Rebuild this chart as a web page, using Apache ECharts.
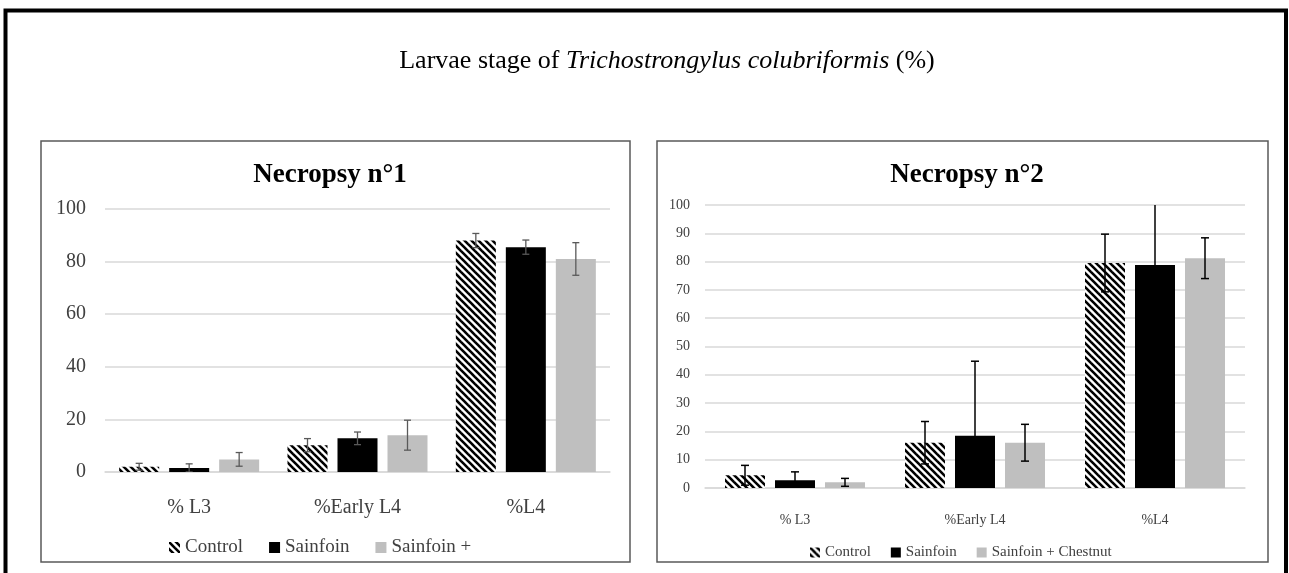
<!DOCTYPE html>
<html>
<head>
<meta charset="utf-8">
<script src="https://cdn.jsdelivr.net/npm/echarts@6/dist/echarts.min.js"></script>
<style>
html,body{margin:0;padding:0;background:#fff;}
#chart{width:1289px;height:573px;}
</style>
</head>
<body>
<div id="chart"></div>
<script>
// ---- data ----
const categories = ['% L3', '%Early L4', '%L4'];
const yTicks1 = [0, 20, 40, 60, 80, 100];
const yTicks2 = [0, 10, 20, 30, 40, 50, 60, 70, 80, 90, 100];

// Necropsy n°1
const n1Control = [2.0, 10.2, 88.0];
const n1Sainfoin = [1.5, 12.8, 85.5];
const n1SainfoinPlus = [4.8, 14.0, 81.0];
const n1ControlErr = [1.3, 2.5, 2.7];
const n1SainfoinErr = [1.6, 2.4, 2.7];
const n1SainfoinPlusErr = [2.6, 5.7, 6.2];

// Necropsy n°2
const n2Control = [4.5, 16.0, 79.5];
const n2Sainfoin = [2.7, 18.5, 78.8];
const n2SainfoinChestnut = [2.0, 16.0, 81.2];
const n2ControlErr = [3.5, 7.5, 10.2];
const n2SainfoinErr = [3.0, 26.3, 22.0];
const n2SainfoinChestnutErr = [1.4, 6.5, 7.2];

const legend1 = ['Control', 'Sainfoin', 'Sainfoin +'];
const legend2 = ['Control', 'Sainfoin', 'Sainfoin + Chestnut'];

// ---- styles ----
const FONT = 'Liberation Serif';
function hatch() {
  const s = 7;
  const c = document.createElement('canvas');
  c.width = s; c.height = s;
  const ctx = c.getContext('2d');
  ctx.fillStyle = '#fff';
  ctx.fillRect(0, 0, s, s);
  ctx.strokeStyle = '#000';
  ctx.lineWidth = 2.6;
  for (let k = -1; k <= 1; k++) {
    ctx.beginPath();
    ctx.moveTo(k * s - 1, -1);
    ctx.lineTo(k * s + s + 1, s + 1);
    ctx.stroke();
  }
  return c;
}
const hatchColor = { image: hatch(), repeat: 'repeat' };
const BAR_W = 40, BAR_GAP = 0.25;

function errData(errs, vals) {
  const out = [];
  errs.forEach((e, k) => {
    vals[k].forEach((v, i) => out.push([i, v, e[i], k]));
  });
  return out;
}
function errSeries(idx, data, color, cap, lw) {
  return {
    type: 'custom', xAxisIndex: idx, yAxisIndex: idx, z: 10, clip: true,
    silent: true, data: data,
    renderItem: function (params, api) {
      const cat = api.value(0), v = api.value(1), e = api.value(2), k = api.value(3);
      const off = (k - 1) * BAR_W * (1 + BAR_GAP);
      const top = api.coord([cat, v + e]);
      const bot = api.coord([cat, Math.max(v - e, 0)]);
      const x = top[0] + off;
      const st = { stroke: color, lineWidth: lw };
      return {
        type: 'group',
        children: [
          { type: 'line', shape: { x1: x, y1: top[1], x2: x, y2: bot[1] }, style: st },
          { type: 'line', shape: { x1: x - cap, y1: top[1], x2: x + cap, y2: top[1] }, style: st },
          { type: 'line', shape: { x1: x - cap, y1: bot[1], x2: x + cap, y2: bot[1] }, style: st }
        ]
      };
    }
  };
}
function bar(idx, name, data, color) {
  return {
    type: 'bar', name: name, xAxisIndex: idx, yAxisIndex: idx, data: data,
    barWidth: BAR_W, barGap: (BAR_GAP * 100) + '%',
    itemStyle: { color: color }, emphasis: { disabled: true }
  };
}

const chart = echarts.init(document.getElementById('chart'), null, { renderer: 'canvas' });
const option = {
  animation: false,
  backgroundColor: '#fff',
  title: [
    {
      text: '{a|Larvae stage of }{b|Trichostrongylus colubriformis}{a| (%)}',
      left: 662, top: 43, textAlign: 'center',
      textStyle: {
        fontWeight: 'normal',
        rich: {
          a: { fontFamily: FONT, fontSize: 26, fontWeight: 'normal', color: '#000' },
          b: { fontFamily: FONT, fontSize: 26, fontWeight: 'normal', color: '#000', fontStyle: 'italic' }
        }
      }
    },
    { text: 'Necropsy n°1', left: 325, top: 157, textAlign: 'center',
      textStyle: { fontFamily: FONT, fontSize: 27, fontWeight: 'bold', color: '#000' } },
    { text: 'Necropsy n°2', left: 962, top: 157, textAlign: 'center',
      textStyle: { fontFamily: FONT, fontSize: 27, fontWeight: 'bold', color: '#000' } }
  ],
  legend: [
    { data: legend1.map(n => ({ name: n })), left: 164, top: 533,
      orient: 'horizontal', itemWidth: 11, itemHeight: 11, itemGap: 26, icon: 'rect',
      selectedMode: false,
      textStyle: { fontFamily: FONT, fontSize: 19, color: '#404040' } },
    { data: legend2.map(n => ({ name: n })), left: 805, top: 540,
      orient: 'horizontal', itemWidth: 10, itemHeight: 10, itemGap: 20, icon: 'rect',
      selectedMode: false,
      textStyle: { fontFamily: FONT, fontSize: 15, color: '#404040' } }
  ],
  grid: [
    { left: 105, top: 209, width: 505, height: 263 },
    { left: 705, top: 205, width: 540, height: 283 }
  ],
  xAxis: [
    { type: 'category', gridIndex: 0, data: categories,
      axisLine: { lineStyle: { color: '#d9d9d9', width: 1.5 } }, axisTick: { show: false },
      axisLabel: { fontFamily: FONT, fontSize: 20, color: '#404040', margin: 26 } },
    { type: 'category', gridIndex: 1, data: categories,
      axisLine: { lineStyle: { color: '#d9d9d9', width: 1.5 } }, axisTick: { show: false },
      axisLabel: { fontFamily: FONT, fontSize: 14, color: '#404040', margin: 25 } }
  ],
  yAxis: [
    { type: 'value', gridIndex: 0, min: yTicks1[0], max: yTicks1[yTicks1.length - 1],
      interval: yTicks1[1] - yTicks1[0],
      axisLine: { show: false }, axisTick: { show: false },
      splitLine: { lineStyle: { color: '#d9d9d9', width: 1.5 } },
      axisLabel: { fontFamily: FONT, fontSize: 20, color: '#404040', margin: 19 } },
    { type: 'value', gridIndex: 1, min: yTicks2[0], max: yTicks2[yTicks2.length - 1],
      interval: yTicks2[1] - yTicks2[0],
      axisLine: { show: false }, axisTick: { show: false },
      splitLine: { lineStyle: { color: '#d9d9d9', width: 1.5 } },
      axisLabel: { fontFamily: FONT, fontSize: 14, color: '#404040', margin: 15 } }
  ],
  graphic: [
    { type: 'polyline', shape: { points: [[5.5, 580], [5.5, 10.5], [1286, 10.5], [1286, 580]] },
      style: { stroke: '#000', lineWidth: 4, fill: null }, silent: true },
    { type: 'rect', shape: { x: 41, y: 141, width: 589, height: 421 },
      style: { stroke: '#595959', lineWidth: 1.5, fill: null }, silent: true },
    { type: 'rect', shape: { x: 657, y: 141, width: 611, height: 421 },
      style: { stroke: '#595959', lineWidth: 1.5, fill: null }, silent: true }
  ],
  series: [
    bar(0, legend1[0], n1Control, hatchColor),
    bar(0, legend1[1], n1Sainfoin, '#000000'),
    bar(0, legend1[2], n1SainfoinPlus, '#bfbfbf'),
    errSeries(0, errData([n1ControlErr, n1SainfoinErr, n1SainfoinPlusErr],
                         [n1Control, n1Sainfoin, n1SainfoinPlus]), '#595959', 3.5, 1.3),
    bar(1, legend2[0], n2Control, hatchColor),
    bar(1, legend2[1], n2Sainfoin, '#000000'),
    bar(1, legend2[2], n2SainfoinChestnut, '#bfbfbf'),
    errSeries(1, errData([n2ControlErr, n2SainfoinErr, n2SainfoinChestnutErr],
                         [n2Control, n2Sainfoin, n2SainfoinChestnut]), '#000000', 4, 1.5)
  ]
};
chart.setOption(option);
</script>
</body>
</html>
